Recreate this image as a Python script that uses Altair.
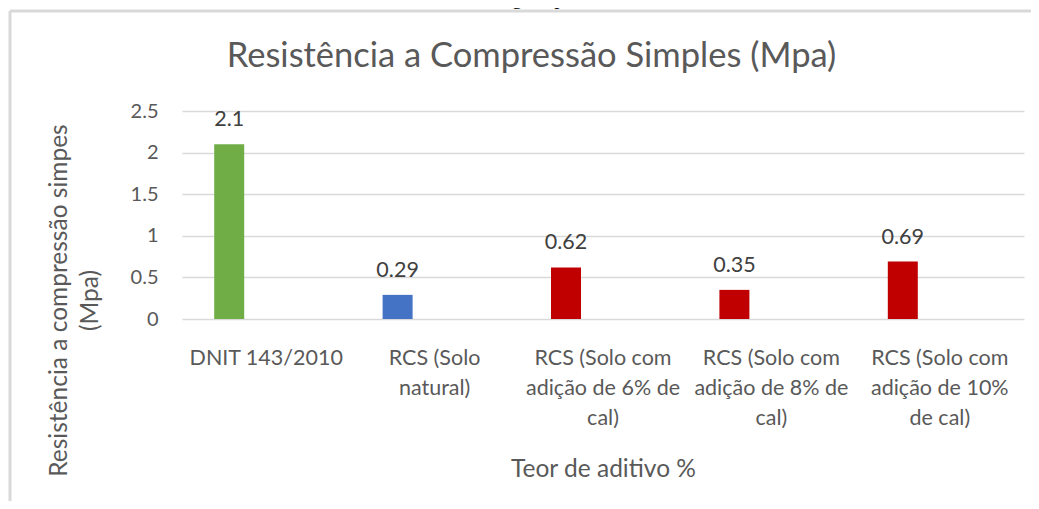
import json
import altair as alt
import pandas as pd

# ---- data ----
categories = [
    "DNIT 143/2010",
    "RCS (Solo natural)",
    "RCS (Solo com adição de 6% de cal)",
    "RCS (Solo com adição de 8% de cal)",
    "RCS (Solo com adição de 10% de cal)",
]
label_lines = [
    ["DNIT 143/2010"],
    ["RCS (Solo", "natural)"],
    ["RCS (Solo com", "adição de 6% de", "cal)"],
    ["RCS (Solo com", "adição de 8% de", "cal)"],
    ["RCS (Solo com", "adição de 10%", "de cal)"],
]
values = [2.1, 0.29, 0.62, 0.35, 0.69]
bar_colors = ["#70AD47", "#4472C4", "#C00000", "#C00000", "#C00000"]
y_ticks = [0, 0.5, 1, 1.5, 2, 2.5]

title_text = "Resistência a Compressão Simples (Mpa)"
y_title = ["Resistência a compressão simpes", "(Mpa)"]
x_title = "Teor de aditivo %"
caption = "mínimo exigido por norma."

df = pd.DataFrame({"cat": categories, "val": values, "color": bar_colors})
label_map = json.dumps(dict(zip(categories, label_lines)), ensure_ascii=False)

FONT = "Lato"
GRAY = "#595959"
GRID = "#D9D9D9"

x_enc = alt.X(
    "cat:N",
    sort=categories,
    scale=alt.Scale(paddingInner=0, paddingOuter=0),
    axis=alt.Axis(
        title=x_title,
        labelExpr=f"{label_map}[datum.label]",
        labelAngle=0,
        labelFont=FONT,
        labelFontSize=21.5,
        labelColor=GRAY,
        labelLineHeight=30,
        labelBaseline="top",
        labelPadding=28,
        labelLimit=0,
        domain=False,
        ticks=False,
        grid=False,
        titleFont=FONT,
        titleFontSize=24.5,
        titleFontWeight="normal",
        titleColor=GRAY,
        titleY=150,
        titleBaseline="middle",
    ),
)
y_enc = alt.Y(
    "val:Q",
    scale=alt.Scale(domain=[0, 2.5], nice=False),
    axis=alt.Axis(
        values=y_ticks,
        format="~g",
        grid=True,
        gridColor=GRID,
        gridWidth=1.5,
        domain=False,
        ticks=False,
        labelFont=FONT,
        labelFontSize=20,
        labelColor=GRAY,
        labelPadding=24,
        title=y_title,
        titleFont=FONT,
        titleFontSize=24.5,
        titleFontWeight="normal",
        titleColor=GRAY,
        titleAngle=270,
        titleAlign="center",
        titleBaseline="middle",
        titleLineHeight=31,
        titleX=-123,
        titleY=189,
    ),
)

base = alt.Chart(df)
bars = base.mark_bar(size=30, xOffset=-37).encode(
    x=x_enc,
    y=y_enc,
    color=alt.Color("color:N", scale=None),
)
labels = base.mark_text(
    xOffset=-37, dy=-18, baseline="alphabetic", font=FONT, fontSize=21.5, color="#404040"
).encode(
    x=alt.X("cat:N", sort=categories),
    y=alt.Y("val:Q"),
    text=alt.Text("val:Q", format="~g"),
)

one = alt.Chart(pd.DataFrame({"k": [0]}))
frame_v = one.mark_rule(color=GRID, strokeWidth=3).encode(
    x=alt.value(-172), y=alt.value(-100), y2=alt.value(420)
)
frame_h = one.mark_rule(color=GRID, strokeWidth=3).encode(
    x=alt.value(-172), x2=alt.value(900), y=alt.value(-100)
)
cap = one.mark_text(font="Liberation Serif", fontSize=21, color="#000000", baseline="alphabetic").encode(
    x=alt.value(349), y=alt.value(-107), text=alt.value(caption)
)
title_mark = one.mark_text(font=FONT, fontSize=34.5, color=GRAY, baseline="alphabetic", align="center").encode(
    x=alt.value(349.5), y=alt.value(-44), text=alt.value(title_text)
)

chart = (
    alt.layer(frame_v, frame_h, cap, title_mark, bars, labels)
    .properties(
        width=842,
        height=208,
        autosize=alt.AutoSizeParams(type="none"),
        padding={"left": 174, "top": 103, "right": 7, "bottom": 182},
    )
    .configure_view(stroke=None)
)

chart.save("out.html", embed_options={"renderer": "svg", "actions": False})
